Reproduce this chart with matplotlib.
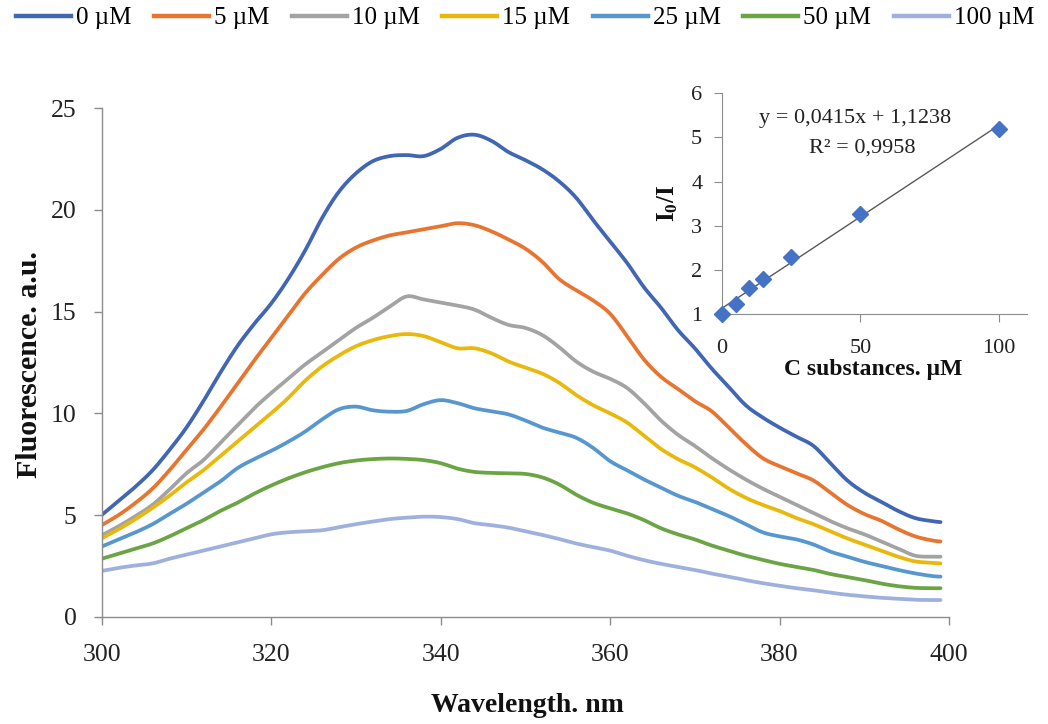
import numpy as np
import matplotlib
matplotlib.use("Agg")
import matplotlib.pyplot as plt
from matplotlib.lines import Line2D

plt.rcParams['font.family'] = ['Liberation Serif', 'DejaVu Serif']
plt.rcParams['mathtext.fontset'] = 'custom'
plt.rcParams['mathtext.rm'] = 'Liberation Serif'
plt.rcParams['mathtext.bf'] = 'Liberation Serif:bold'

# ---------------------------------------------------------------------------
# Data
# ---------------------------------------------------------------------------
wavelength = list(range(300, 400, 2)) + [399]

f_0 = [5.0, 5.7, 6.4, 7.2, 8.2, 9.3, 10.6, 12.0, 13.3, 14.4,
       15.4, 16.6, 18.0, 19.6, 20.9, 21.8, 22.4, 22.65, 22.7, 22.65,
       23.0, 23.55, 23.7, 23.4, 22.85, 22.45, 22.0, 21.4, 20.6, 19.5,
       18.45, 17.4, 16.2, 15.2, 14.1, 13.2, 12.2, 11.3, 10.4, 9.8,
       9.3, 8.85, 8.4, 7.55, 6.7, 6.1, 5.65, 5.2, 4.85, 4.7, 4.65]
f_5 = [4.5, 5.0, 5.6, 6.3, 7.2, 8.2, 9.2, 10.3, 11.45, 12.6,
       13.7, 14.8, 15.9, 16.8, 17.6, 18.15, 18.5, 18.75, 18.9, 19.05,
       19.2, 19.35, 19.25, 18.95, 18.55, 18.1, 17.45, 16.6, 16.05, 15.55,
       14.9, 13.8, 12.65, 11.8, 11.2, 10.6, 10.1, 9.3, 8.5, 7.8,
       7.4, 7.05, 6.7, 6.1, 5.5, 5.05, 4.72, 4.3, 3.95, 3.75, 3.7]
f_10 = [4.0, 4.45, 4.95, 5.5, 6.25, 7.05, 7.7, 8.55, 9.4, 10.25,
        11.0, 11.7, 12.4, 13.0, 13.6, 14.2, 14.7, 15.25, 15.75, 15.6,
        15.45, 15.3, 15.1, 14.7, 14.35, 14.2, 13.85, 13.25, 12.55, 12.05,
        11.7, 11.25, 10.5, 9.65, 8.95, 8.4, 7.8, 7.25, 6.75, 6.3,
        5.9, 5.5, 5.1, 4.7, 4.35, 4.05, 3.7, 3.35, 3.0, 2.95, 2.95]
f_15 = [3.85, 4.3, 4.8, 5.35, 5.95, 6.6, 7.2, 7.9, 8.6, 9.3,
        10.0, 10.75, 11.6, 12.3, 12.85, 13.3, 13.6, 13.8, 13.9, 13.8,
        13.5, 13.2, 13.2, 12.95, 12.55, 12.25, 11.95, 11.5, 10.9, 10.4,
        10.0, 9.55, 8.9, 8.25, 7.75, 7.35, 6.85, 6.3, 5.85, 5.5,
        5.2, 4.85, 4.55, 4.2, 3.85, 3.55, 3.25, 2.95, 2.72, 2.65, 2.62]
f_25 = [3.45, 3.8, 4.15, 4.55, 5.05, 5.55, 6.1, 6.65, 7.3, 7.75,
        8.15, 8.6, 9.1, 9.7, 10.2, 10.33, 10.15, 10.08, 10.12, 10.45,
        10.65, 10.5, 10.25, 10.1, 9.95, 9.65, 9.3, 9.05, 8.8, 8.3,
        7.65, 7.2, 6.75, 6.35, 5.95, 5.65, 5.3, 4.95, 4.55, 4.15,
        3.95, 3.8, 3.55, 3.2, 2.95, 2.7, 2.5, 2.3, 2.13, 2.0, 1.97]
f_50 = [2.85, 3.1, 3.35, 3.6, 3.95, 4.35, 4.75, 5.2, 5.6, 6.05,
        6.45, 6.8, 7.1, 7.35, 7.55, 7.68, 7.75, 7.78, 7.76, 7.7,
        7.55, 7.28, 7.12, 7.07, 7.05, 7.02, 6.85, 6.5, 6.0, 5.6,
        5.33, 5.08, 4.75, 4.35, 4.05, 3.8, 3.5, 3.25, 3.0, 2.8,
        2.6, 2.45, 2.3, 2.1, 1.95, 1.8, 1.63, 1.5, 1.42, 1.4, 1.4]
f_100 = [2.25, 2.4, 2.52, 2.62, 2.85, 3.05, 3.25, 3.45, 3.65, 3.85,
         4.05, 4.15, 4.2, 4.25, 4.4, 4.55, 4.68, 4.8, 4.87, 4.92,
         4.9, 4.8, 4.6, 4.5, 4.38, 4.2, 4.02, 3.82, 3.6, 3.42,
         3.25, 3.0, 2.78, 2.6, 2.45, 2.3, 2.12, 1.97, 1.8, 1.65,
         1.52, 1.4, 1.3, 1.18, 1.08, 1.0, 0.93, 0.88, 0.83, 0.82, 0.82]

series_labels = ["0 µM", "5 µM", "10 µM", "15 µM", "25 µM", "50 µM", "100 µM"]
series_values = [f_0, f_5, f_10, f_15, f_25, f_50, f_100]
series_colors = ["#4166B3", "#E8752F", "#A3A3A3", "#E9B80C",
                 "#5797CF", "#6AA443", "#9FB0DE"]

conc = [0, 5, 10, 15, 25, 50, 100]
ratio = [1.0, 1.22, 1.6, 1.8, 2.3, 3.27, 5.2]

W, H = 1048, 724

def fx(px):
    return px / W

def fy(py):
    return 1 - py / H


def smooth_path(x, y, n=8):
    """Catmull-Rom drawing path through the points (like Excel's smoothed line)."""
    x = np.asarray(x, float); y = np.asarray(y, float)
    px = np.r_[x[0], x, x[-1]]; py = np.r_[y[0], y, y[-1]]
    t = np.linspace(0, 1, n, endpoint=False)[:, None]
    out_x, out_y = [], []
    for i in range(1, len(px) - 2):
        for arr, out in ((px, out_x), (py, out_y)):
            p0, p1, p2, p3 = arr[i - 1], arr[i], arr[i + 1], arr[i + 2]
            seg = 0.5 * (2 * p1 + (-p0 + p2) * t + (2 * p0 - 5 * p1 + 4 * p2 - p3) * t ** 2
                         + (-p0 + 3 * p1 - 3 * p2 + p3) * t ** 3)
            out.extend(seg.ravel())
    out_x.append(x[-1]); out_y.append(y[-1])
    return out_x, out_y

# ---------------------------------------------------------------------------
# Figure
# ---------------------------------------------------------------------------
fig = plt.figure(figsize=(W / 100, H / 100), dpi=100)
ax = fig.add_axes([fx(101.7), fy(616.7), fx(949 - 101.7), (616.7 - 108.3) / H])

for vals, col in zip(series_values, series_colors):
    sx, sy = smooth_path(wavelength, vals)
    ax.plot(sx, sy, color=col, lw=2.7, solid_capstyle='round')

ax.set_xlim(300, 400)
ax.set_ylim(0, 25)
ax.set_xticks([300, 320, 340, 360, 380, 400])
ax.set_yticks([0, 5, 10, 15, 20, 25])
for s in ["top", "right"]:
    ax.spines[s].set_visible(False)
for s in ["left", "bottom"]:
    ax.spines[s].set_color("#8C8C8C")
    ax.spines[s].set_linewidth(1.0)
ax.tick_params(axis="both", colors="#8C8C8C", labelcolor="#222222",
               labelsize=18.5, length=6, width=1.0)
ax.tick_params(axis="x", pad=14)
ax.tick_params(axis="y", pad=12)

fig.text(fx(527), fy(705), "Wavelength. nm", ha="center", va="center",
         fontsize=20, fontweight="bold", color="#111111")
fig.text(fx(30), fy(365), "Fluorescence. a.u.", ha="center", va="center",
         rotation=90, fontsize=21.5, fontweight="bold", color="#111111")

# legend across the top
handles = [Line2D([], [], color=c, lw=3.2) for c in series_colors]
fig.legend(handles, series_labels, loc="center", ncol=7,
           bbox_to_anchor=(fx(525), fy(18)), frameon=False, fontsize=18,
           handlelength=2.2, handletextpad=0.2, columnspacing=0.9,
           borderpad=0, borderaxespad=0)

# ---------------------------------------------------------------------------
# Inset: Stern-Volmer plot
# ---------------------------------------------------------------------------
ins = fig.add_axes([fx(721.7), fy(314), fx(1026.7 - 721.7), (314 - 93.3) / H])
slope, intercept = np.polyfit(conc, ratio, 1)
xl = np.array([min(conc), max(conc)])
ins.plot(xl, slope * xl + intercept, color="#595959", lw=1.0, zorder=2)
ins.plot(conc, ratio, ls="none", marker="D", ms=8, color="#4472C4",
         zorder=3, clip_on=False)
ins.set_xlim(0, 110)
ins.set_ylim(1, 6)
ins.set_xticks([0, 50, 100])
ins.set_yticks([1, 2, 3, 4, 5, 6])
ins.patch.set_alpha(0)
for s in ["top", "right"]:
    ins.spines[s].set_visible(False)
for s in ["left", "bottom"]:
    ins.spines[s].set_color("#8C8C8C")
ins.tick_params(axis="both", colors="#8C8C8C", labelcolor="#222222",
                labelsize=16, length=6)
ins.tick_params(axis="x", pad=12)
ins.tick_params(axis="y", pad=8)

fig.text(fx(873), fy(370), "C substances. µM", ha="center", va="center",
         fontsize=17, fontweight="bold", color="#111111")
fig.text(fx(668), fy(203), r"$\mathbf{I_0/I}$", ha="center", va="center",
         rotation=90, fontsize=18, color="#111111")
fig.text(fx(855), fy(119), "y = 0,0415x + 1,1238", ha="center", va="center",
         fontsize=16, color="#222222")
fig.text(fx(862), fy(148), "R² = 0,9958", ha="center", va="center",
         fontsize=16, color="#222222")

fig.savefig("out.png", dpi=100)
